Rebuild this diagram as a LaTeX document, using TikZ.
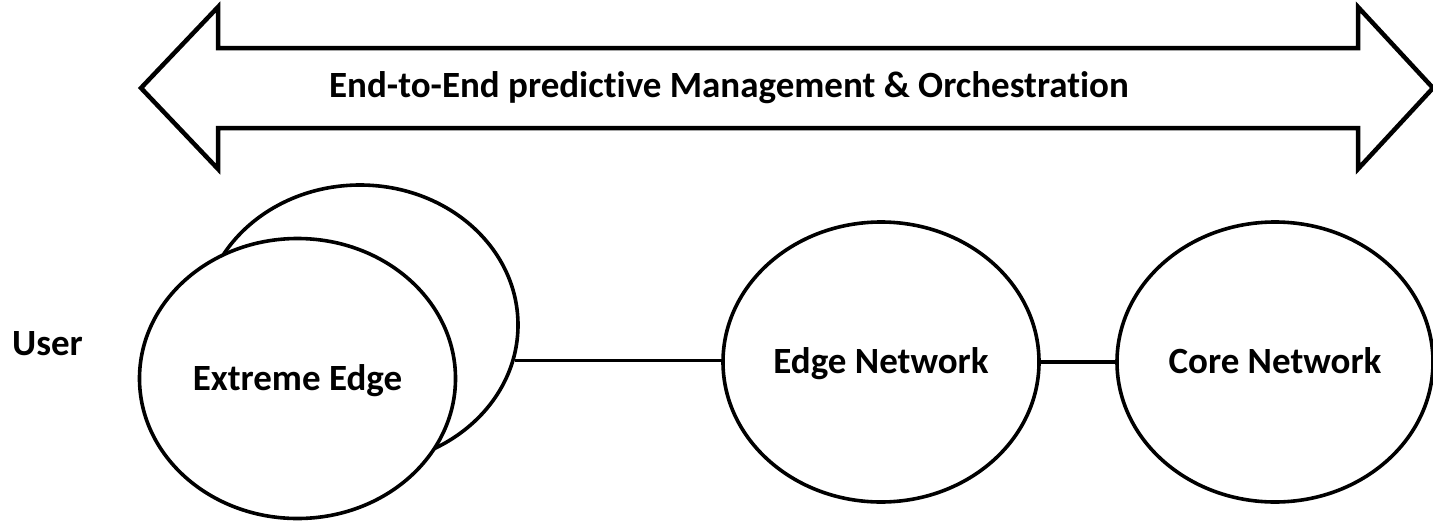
\documentclass[tikz,border=0pt]{standalone}
\usepackage{fontspec}
\setmainfont[Ligatures=NoCommon]{Carlito}
\usetikzlibrary{shapes.geometric}
\begin{document}
\begin{tikzpicture}[x=1pt,y=-1pt,
  ring/.style={ellipse, draw, fill=white, line width=3.6pt, inner sep=0pt,
    minimum width=316pt, minimum height=280pt,
    text height=23pt, text depth=0pt,
    font=\fontsize{37}{44}\selectfont\bfseries},
  plaintext/.style={font=\fontsize{37}{44}\selectfont\bfseries, inner sep=0pt, anchor=base},
  link/.style={line width=3.4pt},
  banner/.style={line width=4.5pt, line join=miter}]
\useasboundingbox (0,0) rectangle (1433,520);

% double-headed banner arrow
\draw[banner] (141,88) -- (218,7) -- (218,48) -- (1358,48) -- (1358,7)
  -- (1433,88) -- (1358,169) -- (1358,128) -- (218,128) -- (218,169) -- cycle;
\node[plaintext] (title) at (729,97) {End-to-End predictive Management \& Orchestration};

% user side label
\node[plaintext] (user) at (47.5,355) {User};

% network domains
\node[ring] (eeb) at (360,325) {};
\node[ring] (ee) at (297.5,378.5) {Extreme Edge};
\node[ring] (en) at (881,362) {Edge Network};
\node[ring] (cn) at (1275,362) {Core Network};

% links between domains
\draw[link] (eeb.-13.65) -- (eeb.-13.65 -| en.west);
\draw[link] (en.east) -- (cn.west);
\end{tikzpicture}
\end{document}
